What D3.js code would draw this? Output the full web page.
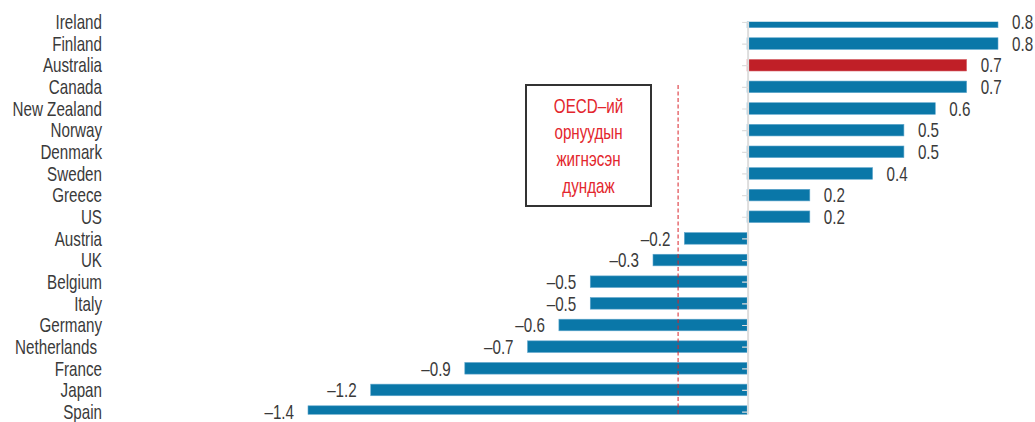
<!DOCTYPE html>
<html>
<head>
<meta charset="utf-8">
<script src="https://cdn.jsdelivr.net/npm/d3@7"></script>
<style>
  html, body { margin: 0; padding: 0; background: #fff; }
  svg text { font-family: "Liberation Sans", Arial, sans-serif; }
</style>
</head>
<body>
<svg id="chart" width="1035" height="422"></svg>
<script>
// data
var countries = ["Ireland", "Finland", "Australia", "Canada", "New Zealand", "Norway", "Denmark",
  "Sweden", "Greece", "US", "Austria", "UK", "Belgium", "Italy", "Germany", "Netherlands",
  "France", "Japan", "Spain"];
var values = [0.8, 0.8, 0.7, 0.7, 0.6, 0.5, 0.5, 0.4, 0.2, 0.2, -0.2, -0.3, -0.5, -0.5, -0.6,
  -0.7, -0.9, -1.2, -1.4];
var highlight = ["Australia"];
var oecdAvg = -0.22;
var noteLines = ["OECD\u2013ий", "орнуудын", "жигнэсэн", "дундаж"];

var svg = d3.select("#chart"),
    blue = "#0a77a8",
    red = "#c01f27",
    textColor = "#3a3a3a",
    barH = 11.6,
    fontSize = 20,
    squeeze = 0.76; // condensed look of the original type

var data = countries.map(function (c, i) { return { key: c, value: values[i] }; });
var fmt = function (v) { return v < 0 ? "\u2013" + Math.abs(v).toFixed(1) : v.toFixed(1); };
var place = function (px, py) { return "translate(" + px + "," + py + ") scale(" + squeeze + ",1)"; };

var x = d3.scaleLinear().domain([-1.4, 0.8]).range([308, 998]);
var y = d3.scalePoint().domain(countries).range([21.9, 411.6]);

// plot area is cropped at top and bottom in the original
svg.append("clipPath").attr("id", "plotclip")
  .append("rect").attr("x", 0).attr("y", 21.8).attr("width", 1035).attr("height", 392.6);

var plot = svg.append("g").attr("clip-path", "url(#plotclip)");

plot.selectAll(".bar")
    .data(data)
  .enter().append("rect")
    .attr("class", "bar")
    .attr("x", function (d) { return x(Math.min(0, d.value)); })
    .attr("y", function (d) { return y(d.key) - barH / 2; })
    .attr("width", function (d) { return Math.abs(x(d.value) - x(0)); })
    .attr("height", barH)
    .attr("fill", function (d) { return highlight.indexOf(d.key) >= 0 ? red : blue; })
    .attr("stroke", function (d) { return highlight.indexOf(d.key) >= 0 ? "#d86a70" : "#5fa6cc"; })
    .attr("stroke-width", 0.6);

// zero axis with small ticks
var axis = d3.axisLeft(y).tickSize(6).tickSizeOuter(0).tickFormat("");
var ax = plot.append("g")
    .attr("transform", "translate(" + (x(0) + 1) + ",0)")
    .call(axis);
ax.select(".domain").remove();
ax.selectAll(".tick line").attr("stroke", "#ddd").attr("stroke-width", 1.2);
plot.append("line")
    .attr("x1", x(0) + 1).attr("x2", x(0) + 1)
    .attr("y1", 15).attr("y2", 420)
    .attr("stroke", "#ddd").attr("stroke-width", 2);

// OECD weighted average
plot.append("line")
    .attr("x1", x(oecdAvg)).attr("x2", x(oecdAvg))
    .attr("y1", 85).attr("y2", 420)
    .attr("stroke", "#d9232a").attr("stroke-width", 1)
    .attr("stroke-dasharray", "4,2.5");

// category labels
svg.selectAll(".cat")
    .data(data)
  .enter().append("text")
    .attr("class", "cat")
    .attr("transform", function (d) { return place(d.key === "Netherlands" ? 97 : 102, y(d.key)); })
    .attr("dy", "0.36em")
    .attr("text-anchor", "end")
    .attr("font-size", fontSize)
    .attr("fill", textColor)
    .text(function (d) { return d.key; });

// value labels
svg.selectAll(".val")
    .data(data)
  .enter().append("text")
    .attr("class", "val")
    .attr("transform", function (d) {
      return place(d.value < 0 ? x(d.value) - 14 : x(d.value) + 14, y(d.key));
    })
    .attr("dy", "0.36em")
    .attr("text-anchor", function (d) { return d.value < 0 ? "end" : "start"; })
    .attr("font-size", fontSize)
    .attr("fill", textColor)
    .text(function (d) { return fmt(d.value); });

// note box
var note = svg.append("g").attr("transform", "translate(526,85)");
note.append("rect")
    .attr("width", 125).attr("height", 121)
    .attr("fill", "#fff").attr("stroke", "#333").attr("stroke-width", 2);
note.selectAll("text")
    .data(noteLines)
  .enter().append("text")
    .attr("transform", function (d, i) { return place(62.5, 20.5 + i * 26.7); })
    .attr("dy", "0.36em")
    .attr("text-anchor", "middle")
    .attr("font-size", fontSize)
    .attr("fill", "#e3262d")
    .text(function (d) { return d; });
</script>
</body>
</html>
